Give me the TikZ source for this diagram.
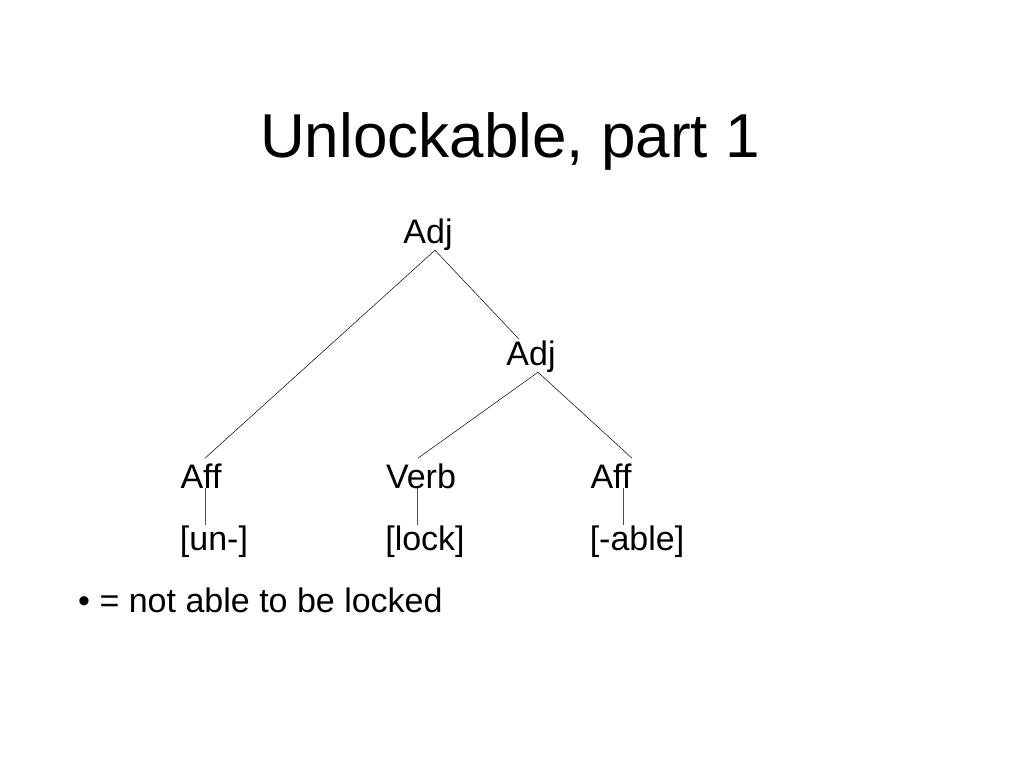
\documentclass[tikz,border=0pt]{standalone}
\usepackage{fontspec}
\setmainfont[Ligatures=NoCommon]{Liberation Sans}
\usepackage{tikz}
\usetikzlibrary{positioning}

\tikzset{
  lbl/.style={anchor=base,inner sep=0pt,font=\fontsize{34bp}{38bp}\selectfont},
  branch/.style={black,line width=0.5bp},
  stem/.style={black!70,line width=0.6bp},
}

\begin{document}
\begin{tikzpicture}[x=1bp,y=-1bp]
\useasboundingbox (0,0) rectangle (1024,768);
%%
\node (title) at (510,157) [anchor=base,inner sep=0pt,font=\fontsize{62bp}{70bp}\selectfont] {Unlockable, part 1};
\node (adjT) at (428,243) [lbl] {Adj};
\node (adjM) at (531,365) [lbl] {Adj};
\node (affL) at (201,488) [lbl] {Aff};
\node (verb) at (421,488) [lbl] {Verb};
\node (affR) at (611,488) [lbl] {Aff};
\node (unM) at (214,550) [lbl] {[un-]};
\node (lockM) at (425,550) [lbl] {[lock]};
\node (ableM) at (637,550) [lbl] {[-able]};
\node (gloss) at (78,612) [lbl,anchor=base west] {• = not able to be locked};
  \draw [branch] ([xshift=7bp]adjT.south) -- ([shift={(4bp,5bp)}]affL.north);
  \draw [branch] ([xshift=7bp]adjT.south) -- ([shift={(-12bp,1bp)}]adjM.north);
  \draw [branch] ([xshift=7bp]adjM.south) -- ([shift={(-3bp,5bp)}]verb.north);
  \draw [branch] ([xshift=7bp]adjM.south) -- ([shift={(21bp,5bp)}]affR.north);
  \draw [stem] ([xshift=4bp]affL.base) -- ([xshift=4bp]affL.base |- unM.north);
  \draw [stem] ([xshift=-4bp]verb.base) -- ([xshift=-4bp]verb.base |- lockM.north);
  \draw [stem] ([xshift=12bp]affR.base) -- ([xshift=12bp]affR.base |- ableM.north);
%
\end{tikzpicture}
\end{document}
